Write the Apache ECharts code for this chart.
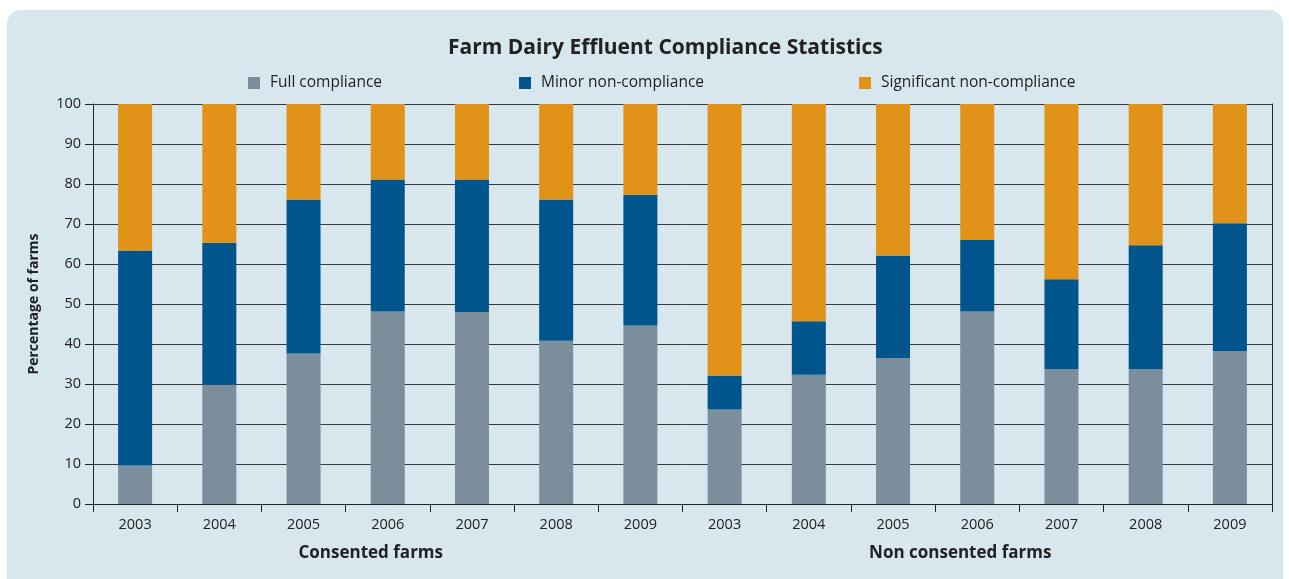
<!DOCTYPE html>
<html>
<head>
<meta charset="utf-8">
<script src="https://cdn.jsdelivr.net/npm/echarts@6/dist/echarts.min.js"></script>
<style>
html,body{margin:0;padding:0;background:#fff;width:1289px;height:579px;overflow:hidden;}
#bg{position:absolute;left:7px;top:10px;width:1276px;height:600px;background:#d8e6ee;border-radius:14px;}
#chart{position:absolute;left:0;top:0;width:1289px;height:579px;}
</style>
</head>
<body>
<div id="bg"></div>
<div id="chart"></div>
<script>
const categories = ['2003','2004','2005','2006','2007','2008','2009','2003','2004','2005','2006','2007','2008','2009'];
const groups = ['Consented farms','Non consented farms'];
const fullCompliance = [9.6,29.8,37.6,48.1,48.0,40.8,44.6, 23.6,32.3,36.5,48.1,33.7,33.7,38.2];
const minorNonCompliance = [53.8,35.5,38.5,33.0,33.1,35.3,32.7, 8.5,13.4,25.6,17.9,22.5,31.0,32.0];
const significantNonCompliance = [36.6,34.7,23.9,18.9,18.9,23.9,22.7, 67.9,54.3,37.9,34.0,43.8,35.3,29.8];
const yTicks = [0,10,20,30,40,50,60,70,80,90,100];

const FONT = '"Open Sans", "Noto Sans", sans-serif';
const C_FULL = '#7a8e9b', C_MINOR = '#00568c', C_SIG = '#e09318';
const chart = echarts.init(document.getElementById('chart'), null, {renderer:'canvas'});
const legendBase = {top: 70, itemWidth: 12, itemHeight: 12, icon: 'rect', itemGap: 8,
  textStyle: {fontFamily: FONT, fontSize: 15.5, color: '#222', padding: [0,0,0,5]}};
chart.setOption({
  backgroundColor: 'transparent',
  animation: false,
  title: {text: 'Farm Dairy Effluent Compliance Statistics', left: 443, top: 33,
    textStyle: {fontFamily: FONT, fontSize: 21, fontWeight: 'bold', color: '#222'}},
  legend: [
    Object.assign({left: 243, data: ['Full compliance']}, legendBase),
    Object.assign({left: 514, data: ['Minor non-compliance']}, legendBase),
    Object.assign({left: 854, data: ['Significant non-compliance']}, legendBase)
  ],
  grid: {left: 93, right: 17, top: 104, bottom: 75},
  xAxis: [
    {type: 'category', data: categories, position: 'bottom',
     axisLine: {lineStyle: {color: '#222', width: 1}},
     axisTick: {show: true, length: 8, alignWithLabel: false, lineStyle: {color: '#222'}},
     axisLabel: {fontFamily: FONT, fontSize: 14.5, color: '#222', margin: 13},
     splitLine: {show: false}},
    {type: 'category', data: groups, position: 'bottom', offset: 41,
     axisLine: {show: false}, axisTick: {show: false},
     axisLabel: {fontFamily: FONT, fontSize: 17, fontWeight: 'bold', color: '#222', margin: 0,
       padding: [0, 34, 0, 0]}}
  ],
  yAxis: [
    {type: 'value', min: 0, max: 100, interval: 10,
     name: 'Percentage of farms', nameLocation: 'middle', nameGap: 52, nameRotate: 90,
     nameTextStyle: {fontFamily: FONT, fontSize: 14, fontWeight: 'bold', color: '#222'},
     axisLine: {show: true, lineStyle: {color: '#222', width: 1}},
     axisTick: {show: true, length: 8, lineStyle: {color: '#222'}},
     axisLabel: {fontFamily: FONT, fontSize: 14.5, color: '#222', margin: 12,
       formatter: v => yTicks.includes(v) ? String(v) : ''},
     splitLine: {show: true, lineStyle: {color: '#3a3a3a', width: 1}}},
    {type: 'value', min: 0, max: 100, interval: 10, position: 'right',
     axisLine: {show: true, lineStyle: {color: '#222', width: 1}},
     axisTick: {show: false}, axisLabel: {show: false}, splitLine: {show: false}}
  ],
  series: [
    {name: 'Full compliance', type: 'bar', stack: 'all', data: fullCompliance, barWidth: 34,
     itemStyle: {color: C_FULL}},
    {name: 'Minor non-compliance', type: 'bar', stack: 'all', data: minorNonCompliance, barWidth: 34,
     itemStyle: {color: C_MINOR}},
    {name: 'Significant non-compliance', type: 'bar', stack: 'all', data: significantNonCompliance, barWidth: 34,
     itemStyle: {color: C_SIG}}
  ]
});
</script>
</body>
</html>
